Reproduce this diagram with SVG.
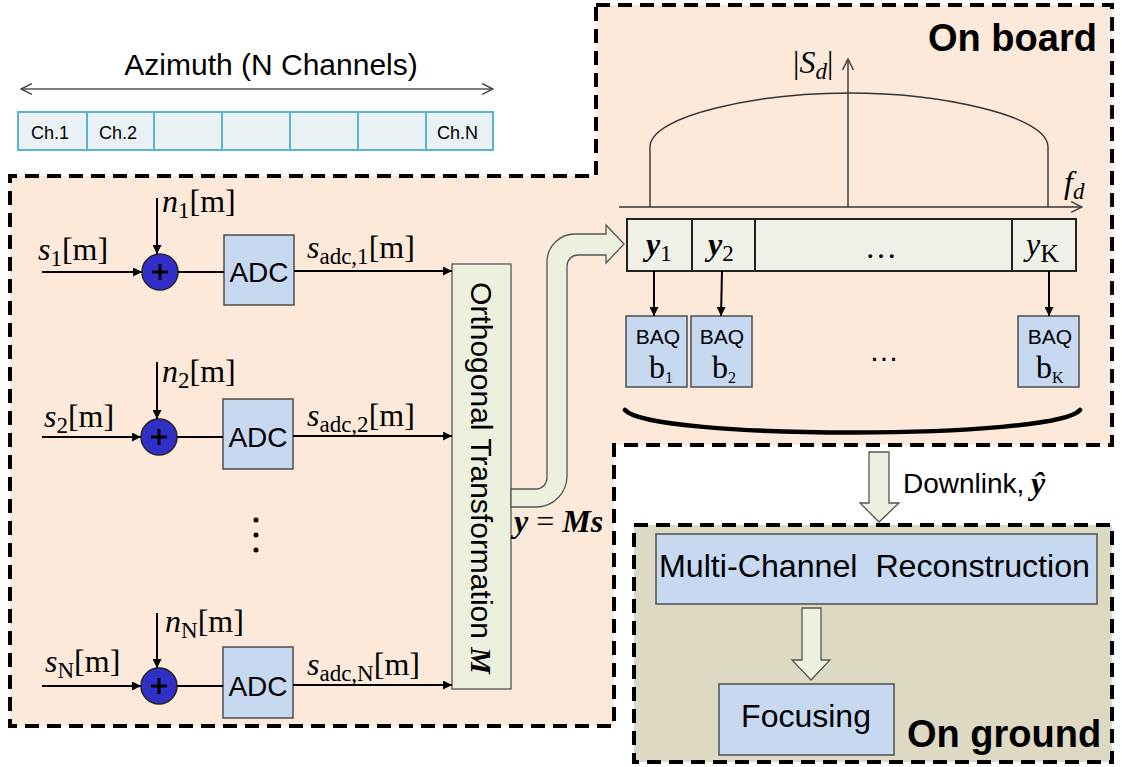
<svg xmlns="http://www.w3.org/2000/svg" width="1122" height="767" viewBox="0 0 1122 767">
  <style>
    .dash { fill: none; stroke: #000; stroke-width: 4; stroke-dasharray: 14 8; }
    .blue { fill: #c6d9f1; stroke: #4d4d4d; stroke-width: 1.5; }
    .green { fill: #ebf1de; stroke: #555; stroke-width: 1.3; }
    .cell { fill: #e9f1f5; stroke: #5ab4d0; stroke-width: 2; }
    .wire { fill: none; stroke: #000; stroke-width: 2; }
    .thin { fill: none; stroke: #333; stroke-width: 1.4; }
    .sans { font-family: "Liberation Sans", Arial, sans-serif; fill: #000; }
    .math { font-family: "Liberation Serif", "Times New Roman", serif; fill: #000; font-size: 32px; }
    .it { font-style: italic; }
    .sub { font-size: 23px; }
    .bold { font-weight: bold; }
  </style>
  <defs>
    <marker id="tri" viewBox="0 0 10 10" refX="10" refY="5" markerWidth="11" markerHeight="9" markerUnits="userSpaceOnUse" orient="auto">
      <path d="M0,0 L10,5 L0,10 Z" fill="#000"/>
    </marker>
    <marker id="chev" viewBox="0 0 12 12" refX="11" refY="6" markerWidth="13" markerHeight="13" markerUnits="userSpaceOnUse" orient="auto-start-reverse">
      <path d="M1,1 L11,6 L1,11" fill="none" stroke="#444" stroke-width="1.4"/>
    </marker>
  </defs>

  <rect width="1122" height="767" fill="#fff"/>

  <!-- regions -->
  <g id="region-onboard">
    <path d="M596,5 H1112 V445 H614 V726 H10 V176 H596 Z" fill="#fde9d9"/>
    <path class="dash" d="M596,5 H1112 V445 H614 V726 H10 V176 H596 Z"/>
    <text class="sans bold" x="928" y="51" font-size="38">On board</text>
  </g>
  <g id="region-onground">
    <rect x="634" y="525" width="478" height="237" fill="#ddd9c3"/>
    <rect class="dash" x="634" y="525" width="478" height="237"/>
    <text class="sans bold" x="907" y="747" font-size="38">On ground</text>
  </g>

  <!-- antenna channels -->
  <g id="azimuth">
    <text class="sans" x="271" y="75" font-size="30" text-anchor="middle">Azimuth (N Channels)</text>
    <line x1="21" y1="89" x2="493" y2="89" stroke="#555" stroke-width="1.5" marker-start="url(#chev)" marker-end="url(#chev)"/>
    <rect class="cell" x="18" y="112" width="69" height="38"/>
    <rect class="cell" x="87" y="112" width="67" height="38"/>
    <rect class="cell" x="154" y="112" width="68" height="38"/>
    <rect class="cell" x="222" y="112" width="68" height="38"/>
    <rect class="cell" x="290" y="112" width="68" height="38"/>
    <rect class="cell" x="358" y="112" width="68" height="38"/>
    <rect class="cell" x="426" y="112" width="67" height="38"/>
    <text class="sans" x="31" y="139" font-size="18" fill="#222">Ch.1</text>
    <text class="sans" x="99" y="139" font-size="18" fill="#222">Ch.2</text>
    <text class="sans" x="437" y="139" font-size="18" fill="#222">Ch.N</text>
  </g>

  <!-- channel 1 -->
  <g id="channel-1">
    <circle cx="160" cy="272" r="18" fill="#3030c8" stroke="#222" stroke-width="1.5"/>
    <path d="M152,272 H168 M160,264 V280" stroke="#000" stroke-width="3"/>
    <rect class="blue" x="224" y="235" width="70" height="70"/>
    <text class="sans" x="259" y="282" font-size="28" text-anchor="middle">ADC</text>
    <text class="math" x="38" y="260"><tspan class="it">s</tspan><tspan class="sub" dy="6">1</tspan><tspan dy="-6">[m]</tspan></text>
    <text class="math" x="162" y="212"><tspan class="it">n</tspan><tspan class="sub" dy="6">1</tspan><tspan dy="-6">[m]</tspan></text>
    <text class="math" x="307" y="258"><tspan class="it">s</tspan><tspan class="sub" dy="6">adc,1</tspan><tspan dy="-6">[m]</tspan></text>
  </g>
  <!-- channel 2 -->
  <g id="channel-2">
    <circle cx="159" cy="437" r="18" fill="#3030c8" stroke="#222" stroke-width="1.5"/>
    <path d="M151,437 H167 M159,429 V445" stroke="#000" stroke-width="3"/>
    <rect class="blue" x="223" y="399" width="70" height="70"/>
    <text class="sans" x="258" y="447" font-size="28" text-anchor="middle">ADC</text>
    <text class="math" x="44" y="427"><tspan class="it">s</tspan><tspan class="sub" dy="6">2</tspan><tspan dy="-6">[m]</tspan></text>
    <text class="math" x="162" y="382"><tspan class="it">n</tspan><tspan class="sub" dy="6">2</tspan><tspan dy="-6">[m]</tspan></text>
    <text class="math" x="307" y="426"><tspan class="it">s</tspan><tspan class="sub" dy="6">adc,2</tspan><tspan dy="-6">[m]</tspan></text>
    <circle cx="256" cy="520" r="2.5" fill="#000"/>
    <circle cx="256" cy="535" r="2.5" fill="#000"/>
    <circle cx="256" cy="550" r="2.5" fill="#000"/>
  </g>
  <!-- channel N -->
  <g id="channel-N">
    <circle cx="159" cy="686" r="18" fill="#3030c8" stroke="#222" stroke-width="1.5"/>
    <path d="M151,686 H167 M159,678 V694" stroke="#000" stroke-width="3"/>
    <rect class="blue" x="223" y="647" width="70" height="71"/>
    <text class="sans" x="258" y="696" font-size="28" text-anchor="middle">ADC</text>
    <text class="math" x="45" y="672"><tspan class="it">s</tspan><tspan class="sub" dy="6">N</tspan><tspan dy="-6">[m]</tspan></text>
    <text class="math" x="165" y="632"><tspan class="it">n</tspan><tspan class="sub" dy="6">N</tspan><tspan dy="-6">[m]</tspan></text>
    <text class="math" x="307" y="675"><tspan class="it">s</tspan><tspan class="sub" dy="6">adc,N</tspan><tspan dy="-6">[m]</tspan></text>
  </g>

  <!-- orthogonal transform -->
  <g id="transform">
    <rect class="green" x="452" y="264" width="59" height="425"/>
    <text class="sans" x="471" y="478" font-size="30" text-anchor="middle" transform="rotate(90 471 478)">Orthogonal Transformation <tspan font-family="Liberation Serif, serif" font-style="italic" font-weight="bold">M</tspan></text>
    <text class="math bold it" x="514" y="532" font-size="31">y <tspan font-weight="normal" font-style="normal">=</tspan> Ms</text>
  </g>

  <!-- Doppler spectrum and sub-band split -->
  <g id="spectrum">
    <line class="thin" x1="619" y1="207" x2="1082" y2="207" marker-end="url(#chev)"/>
    <line class="thin" x1="848" y1="207" x2="848" y2="59" marker-end="url(#chev)"/>
    <path class="thin" d="M650,207 V147 C650,115 760,93 849,93 C938,93 1048,115 1048,147 V207"/>
    <text class="math" x="793" y="73">|<tspan class="it">S</tspan><tspan class="sub it" dy="6">d</tspan><tspan dy="-6">|</tspan></text>
    <text class="math it" x="1064" y="193">f<tspan class="sub" dy="6">d</tspan></text>
  </g>
  <g id="subbands">
    <rect x="627" y="219" width="449" height="52" fill="#eff1e8" stroke="#222" stroke-width="2"/>
    <line x1="692" y1="219" x2="692" y2="271" stroke="#222" stroke-width="2"/>
    <line x1="755" y1="219" x2="755" y2="271" stroke="#222" stroke-width="2"/>
    <line x1="1012" y1="219" x2="1012" y2="271" stroke="#222" stroke-width="2"/>
    <text class="math bold it" x="646" y="255">y<tspan class="sub" font-weight="normal" font-style="normal" dy="6">1</tspan></text>
    <text class="math bold it" x="708" y="255">y<tspan class="sub" font-weight="normal" font-style="normal" dy="6">2</tspan></text>
    <text class="math" x="881" y="258" text-anchor="middle" font-size="26">…</text>
    <text class="math it" x="1026" y="255">y<tspan font-size="26" font-style="normal" dy="7">K</tspan></text>
  </g>

  <!-- quantisers -->
  <g id="baq-1">
    <rect class="blue" x="626" y="316" width="61" height="71"/>
    <text class="sans" x="658" y="344" font-size="21" text-anchor="middle">BAQ</text>
    <text class="math" x="649" y="378" font-size="22">b<tspan font-size="16" dy="5">1</tspan></text>
  </g>
  <g id="baq-2">
    <rect class="blue" x="691" y="316" width="61" height="71"/>
    <text class="sans" x="722" y="344" font-size="21" text-anchor="middle">BAQ</text>
    <text class="math" x="712" y="378" font-size="22">b<tspan font-size="16" dy="5">2</tspan></text>
  </g>
  <g id="baq-K">
    <rect class="blue" x="1018" y="316" width="61" height="71"/>
    <text class="sans" x="1050" y="344" font-size="21" text-anchor="middle">BAQ</text>
    <text class="math" x="1036" y="378" font-size="22">b<tspan font-size="16" dy="5">K</tspan></text>
  </g>
  <text class="sans" x="884" y="361" font-size="30" text-anchor="middle">…</text>
  <path d="M625,410 C650,440 1055,440 1080,410" fill="none" stroke="#000" stroke-width="4.5" stroke-linecap="round"/>

  <!-- ground processing -->
  <g id="reconstruction">
    <rect class="blue" x="656" y="534" width="441" height="70"/>
    <text class="sans" x="659" y="577" font-size="32" textLength="431" lengthAdjust="spacingAndGlyphs">Multi-Channel&#160; Reconstruction</text>
  </g>
  <g id="focusing">
    <rect class="blue" x="719" y="684" width="175" height="71"/>
    <text class="sans" x="806" y="727" font-size="32" text-anchor="middle">Focusing</text>
  </g>

  <!-- connectors -->
  <g id="connectors">
    <line class="wire" x1="42" y1="272" x2="142" y2="272" marker-end="url(#tri)"/>
    <line class="wire" x1="157" y1="198" x2="157" y2="254" marker-end="url(#tri)"/>
    <line class="wire" x1="178" y1="272" x2="224" y2="272"/>
    <line class="wire" x1="294" y1="271" x2="452" y2="271" marker-end="url(#tri)"/>

    <line class="wire" x1="42" y1="437" x2="141" y2="437" marker-end="url(#tri)"/>
    <line class="wire" x1="157" y1="362" x2="157" y2="419" marker-end="url(#tri)"/>
    <line class="wire" x1="177" y1="437" x2="223" y2="437"/>
    <line class="wire" x1="293" y1="436" x2="452" y2="436" marker-end="url(#tri)"/>

    <line class="wire" x1="42" y1="686" x2="141" y2="686" marker-end="url(#tri)"/>
    <line class="wire" x1="157" y1="613" x2="157" y2="668" marker-end="url(#tri)"/>
    <line class="wire" x1="177" y1="686" x2="223" y2="686"/>
    <line class="wire" x1="293" y1="685" x2="452" y2="685" marker-end="url(#tri)"/>

    <path class="green" d="M511,489 L536,489 A11,11 0 0 0 547,478 L547,262 A28,28 0 0 1 575,234 L606,234 L606,225 L624,244 L606,263 L606,255 L578,255 A11,11 0 0 0 567,266 L567,476 A31,31 0 0 1 536,507 L511,507 Z"/>

    <line class="wire" x1="654" y1="271" x2="654" y2="316" stroke-width="1.8" marker-end="url(#tri)"/>
    <line class="wire" x1="722" y1="271" x2="721" y2="316" stroke-width="1.8" marker-end="url(#tri)"/>
    <line class="wire" x1="1049" y1="271" x2="1049" y2="316" stroke-width="1.8" marker-end="url(#tri)"/>

    <path class="green" d="M869,452 H889 V503 H899 L879,522 L860,503 H869 Z"/>
    <path class="green" d="M802,608 H821 V660 H830 L811,680 L792,660 H802 Z"/>
  </g>
  <text class="sans" x="903" y="493" font-size="28">Downlink,</text>
  <text class="math bold it" x="1031" y="494" font-size="30">ŷ</text>
</svg>
